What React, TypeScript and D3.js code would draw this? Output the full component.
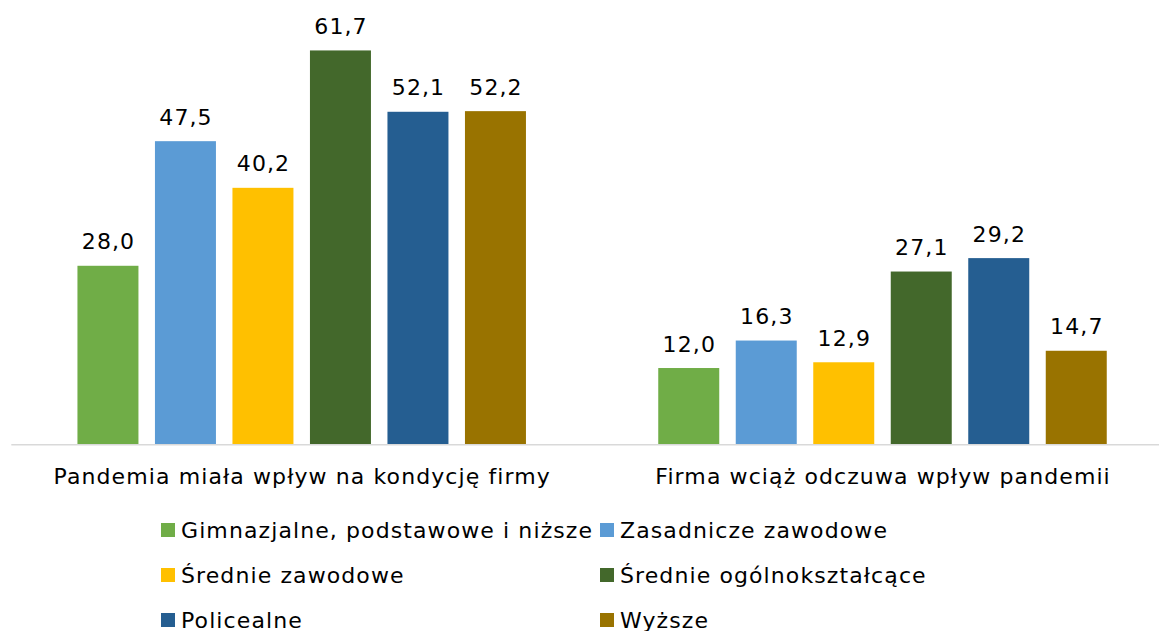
import React from "react";
import * as d3 from "d3";

const categories = ["Pandemia miała wpływ na kondycję firmy", "Firma wciąż odczuwa wpływ pandemii"];
const seriesNames = [
  "Gimnazjalne, podstawowe i niższe",
  "Zasadnicze zawodowe",
  "Średnie zawodowe",
  "Średnie ogólnokształcące",
  "Policealne",
  "Wyższe",
];
const seriesColors = ["#70AD47", "#5B9BD5", "#FFC000", "#43682B", "#255E91", "#997300"];
const values: number[][] = [
  [28.0, 12.0],
  [47.5, 16.3],
  [40.2, 12.9],
  [61.7, 27.1],
  [52.1, 29.2],
  [52.2, 14.7],
];

const W = 1159;
const H = 631;
const FONT = "'DejaVu Sans', Verdana, sans-serif";
const FS = 22;
const LS = 1.1;

export default function App() {
  const x0 = d3.scaleBand<string>().domain(categories).range([11.3, 1172.9]).padding(0);
  const groupSpan = 448.5;
  const off = (x0.bandwidth() - groupSpan) / 2;
  const x1 = d3
    .scaleBand<string>()
    .domain(seriesNames)
    .range([off, off + groupSpan])
    .paddingInner(0.213)
    .paddingOuter(0);
  const y = d3.scaleLinear().domain([0, 70]).range([444.7, 444.7 - 70 * 6.39]);
  const fmt = (v: number) => v.toFixed(1).replace(".", ",");

  const legendCols = [161, 600];
  const legendRows = [530, 575, 620];

  return (
    <svg width={W} height={H} style={{ position: "absolute", left: 0, top: 0, background: "#fff" }} fontFamily={FONT}>
      <rect width={W} height={H} fill="#fff" />
      {categories.map((c, ci) => (
        <g key={c} transform={`translate(${x0(c)},0)`}>
          {seriesNames.map((s, si) => {
            const v = values[si][ci];
            const bx = x1(s)!;
            return (
              <g key={s}>
                <rect x={bx} y={y(v)} width={x1.bandwidth()} height={y(0) - y(v)} fill={seriesColors[si]} />
                <text
                  x={bx + x1.bandwidth() / 2 + LS / 2}
                  y={y(v) - 16.5}
                  textAnchor="middle"
                  fontSize={FS}
                  letterSpacing={LS}
                  fill="#000"
                >
                  {fmt(v)}
                </text>
              </g>
            );
          })}
          <text
            x={x0.bandwidth() / 2 + LS / 2}
            y={484}
            textAnchor="middle"
            fontSize={FS}
            letterSpacing={LS}
            fill="#000"
          >
            {c}
          </text>
        </g>
      ))}
      <line x1={11.3} x2={W} y1={y(0)} y2={y(0)} stroke="#D9D9D9" strokeWidth={1.5} />
      {seriesNames.map((s, i) => {
        const cx = legendCols[i % 2];
        const cy = legendRows[Math.floor(i / 2)];
        return (
          <g key={s}>
            <rect x={cx} y={cy - 7} width={14} height={14} fill={seriesColors[i]} />
            <text x={cx + 20} y={cy + 7.5} fontSize={FS} letterSpacing={LS} fill="#000">
              {s}
            </text>
          </g>
        );
      })}
    </svg>
  );
}
